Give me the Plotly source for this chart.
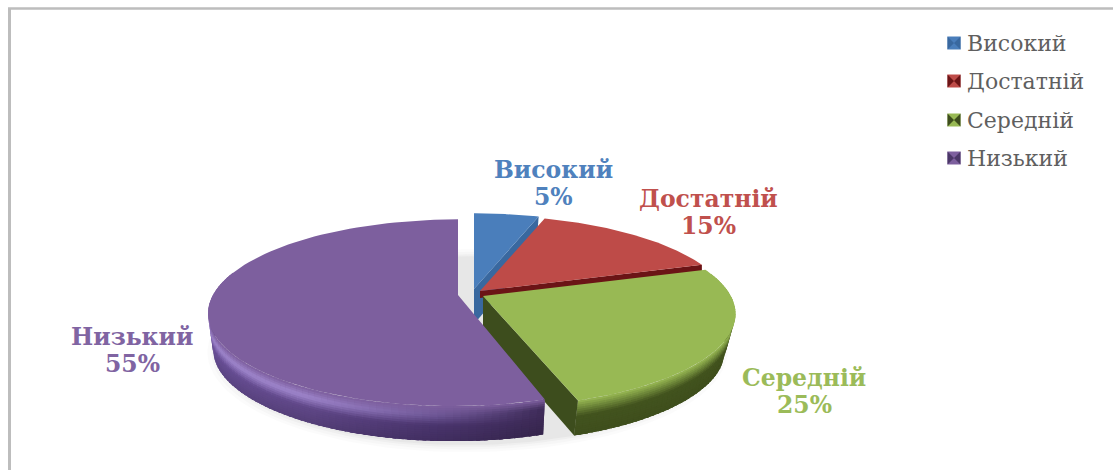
import math
import numpy as np
import plotly.graph_objects as go

# Shares of the four levels, clockwise from twelve o'clock
categories = ["Високий", "Достатній", "Середній", "Низький"]
values = [5, 15, 25, 55]
face_colors = ["#4a7ebb", "#be4b48", "#98b954", "#7d5f9e"]
text_colors = ["#4f81bd", "#c0504d", "#9bbb59", "#8064a2"]
cut_colors = ["#39689f", "#6b1416", "#3d4d1d", "#4b3768"]

# Pixel-style plotting frame and the tilted-disc geometry
WIDTH, HEIGHT = 1113, 470
RY, TILT = 90.0, 0.19
DEPTH = 35.0
apexes = {"Високий": (474, 289), "Достатній": (480, 291), "Середній": (483, 296), "Низький": (458, 295)}
radii = {"Високий": 247.0, "Достатній": 247.0, "Середній": 247.0, "Низький": 243.0}
shears = {"Високий": 0.0, "Достатній": 0.0, "Середній": 1.5, "Низький": -4.0}
base_shrink = {"Високий": 0.04, "Достатній": 0.04, "Середній": 0.04, "Низький": 0.02}
label_centres = {"Високий": (553, 183), "Достатній": (708, 212), "Середній": (804, 391), "Низький": (132, 350)}
legend_rows = [43, 81, 120, 158]


def rim(name, theta):
    """Screen position of a slice's rim point; theta runs clockwise from the back of the disc."""
    u, v = np.sin(theta), -np.cos(theta)
    w = 1 - TILT * v
    ax, ay = apexes[name]
    return ax + (radii[name] * u + shears[name] * (v + 1) / 2) / w, ay + RY * v / w


def wall_point(name, theta, t):
    """Point on the outer wall at height fraction t; the base ring sits slightly narrower."""
    px, py = rim(name, theta)
    ax = apexes[name][0]
    return px + (ax - px) * base_shrink[name] * t, py + DEPTH * t


def rgb_of(c):
    return np.array([int(c[i:i + 2], 16) for i in (1, 3, 5)], dtype=float)


def lerp(a, b, t):
    return a * (1 - t) + b * t


def css(rgb):
    return "rgb(%d,%d,%d)" % tuple(rgb)


def poly(fig, xs, ys, color):
    fig.add_trace(go.Scatter(
        x=list(xs) + [xs[0]], y=list(ys) + [ys[0]], mode="lines", fill="toself", fillcolor=color,
        line=dict(width=0), hoverinfo="skip", showlegend=False,
    ))


def ramp(stops, x):
    """Piecewise-linear colour lookup over (position, hex) stops."""
    for (p0, c0), (p1, c1) in zip(stops, stops[1:]):
        if x <= p1:
            return lerp(rgb_of(c0), rgb_of(c1), (x - p0) / (p1 - p0))
    return rgb_of(stops[-1][1])


def wall_color(name, theta, t):
    """Wall shade: a soft bevel under the top edge, darkening downward and along the arc."""
    face = rgb_of(face_colors[categories.index(name)])
    if name == "Низький":
        along = min(1.0, max(0.0, (math.radians(270) - theta) / math.radians(108)))
        body = ramp([(0, "#7257a4"), (0.55, "#634a8c"), (0.8, "#4c3670"), (1, "#3e2b58")], along)
        body = body * (1 - 0.14 * max(0.0, t - 0.45) / 0.55)
        glow = min(1.0, (1 - along) * 2.2)
        peak = lerp(body, rgb_of("#9f86cc"), glow)
        if t < 0.25:
            return css(lerp(face, peak, t / 0.25))
        if t < 0.55:
            return css(lerp(peak, body, (t - 0.25) / 0.30))
        return css(body)
    if name == "Середній":
        dark = rgb_of("#43541f")
        if t < 0.45:
            return css(lerp(face, dark, t / 0.45))
        return css(lerp(dark, rgb_of("#3f4f1d"), (t - 0.45) / 0.55))
    return css(lerp(face, rgb_of(cut_colors[categories.index(name)]), min(1.0, t * 3)))


fig = go.Figure()

# Soft drop shadow under the whole pie
for grow, alpha in [(16, 0.03), (11, 0.04), (6, 0.05), (2, 0.06)]:
    sx, sy = [], []
    for a in np.linspace(0, 2 * math.pi, 160):
        px, py = rim("Низький", a)
        sx.append(px + 12 + grow * np.sin(a) * 0.8)
        sy.append(py + DEPTH + 3 + grow * -np.cos(a) * 0.5)
    poly(fig, sx, sy, "rgba(120,120,120,%.2f)" % alpha)

# Slice extents from the values
edges = np.cumsum([0] + values) / sum(values) * 2 * math.pi
spans = {n: (edges[i], edges[i + 1]) for i, n in enumerate(categories)}

# Back slices first, the purple one last so it overlaps its neighbours
BANDS = 16
STEP = math.radians(1.5)
for i, name in enumerate(categories):
    apex = apexes[name]
    start, end = spans[name]

    # Outer wall: each strip overlaps the next one so no seams show
    angles = np.arange(start, end, STEP)
    if name == "Низький":
        angles = angles[::-1]
    for a in angles:
        b = min(a + STEP, end)
        if -math.cos(a) > -0.25 or -math.cos(b) > -0.25:
            for k in range(BANDS):
                t0, t1 = k / BANDS, min(1.0, (k + 2) / BANDS)
                if name == "Низький":
                    a0, b0 = max(a - STEP * 0.5, start), b
                else:
                    a0, b0 = a, min(b + STEP * 0.5, end)
                q = [wall_point(name, a0, t0), wall_point(name, b0, t0),
                     wall_point(name, b0, t1), wall_point(name, a0, t1)]
                poly(fig, [p[0] for p in q], [p[1] for p in q],
                     wall_color(name, (a + b) / 2, (k + 0.5) / BANDS))

    # Cut faces that show through the gaps
    ax, ay = apex
    if name in ("Високий", "Середній"):
        ex, ey = rim(name, end)
        gx = ex + (ax - ex) * base_shrink[name]
        poly(fig, [ax, ex, gx, ax], [ay, ey, ey + DEPTH, ay + DEPTH], cut_colors[i])
    if name == "Високий":
        ex, ey = rim(name, start)
        poly(fig, [ax, ex, ex, ax], [ay, ey, ey + DEPTH, ay + DEPTH], cut_colors[i])
    if name == "Достатній":
        ex, ey = rim(name, end)
        poly(fig, [ax, ex, ex, ax], [ay, ey, ey + 7, ay + 7], cut_colors[i])

    # Top face
    xs, ys = [ax], [ay]
    for a in np.linspace(start, end, 90):
        px, py = rim(name, a)
        xs.append(px)
        ys.append(py)
    poly(fig, xs, ys, face_colors[i])

# Category and percentage labels beside the slices
for i, name in enumerate(categories):
    lx, ly = label_centres[name]
    for text, offset in ((name, -13.5), (f"{values[i]}%", 13.5)):
        fig.add_annotation(
            x=lx, y=ly + offset, xref="x", yref="y", showarrow=False,
            text=f"<b>{text}</b>",
            font=dict(family="DejaVu Serif", size=23.5, color=text_colors[i]),
        )

# Legend: keys with a bow-tie shading, names to their right
for i, name in enumerate(categories):
    fig.add_trace(go.Scatter(
        x=[954], y=[legend_rows[i]], mode="markers", hoverinfo="skip", showlegend=False,
        marker=dict(symbol="square", size=13, color=face_colors[i]),
    ))
    fig.add_trace(go.Scatter(
        x=[954], y=[legend_rows[i]], mode="markers", hoverinfo="skip", showlegend=False,
        marker=dict(symbol="bowtie", size=13, color=cut_colors[i]),
    ))
    fig.add_annotation(
        x=967, y=legend_rows[i], xref="x", yref="y", showarrow=False, xanchor="left",
        xshift=-2, text=name,
        font=dict(family="DejaVu Serif", size=22, color="#5f5f5f"),
    )

fig.update_layout(
    width=WIDTH, height=HEIGHT, margin=dict(l=0, r=0, t=0, b=0),
    paper_bgcolor="white", plot_bgcolor="white",
    xaxis=dict(range=[0, WIDTH], visible=False, fixedrange=True),
    yaxis=dict(range=[HEIGHT, 0], visible=False, fixedrange=True),
    shapes=[
        dict(type="line", x0=9.5, x1=9.5, y0=8, y1=470, line=dict(color="#bdbdbd", width=3)),
        dict(type="line", x0=8, x1=1113, y0=8.5, y1=8.5, line=dict(color="#bdbdbd", width=2.5)),
    ],
)

fig.write_html("out.html")
